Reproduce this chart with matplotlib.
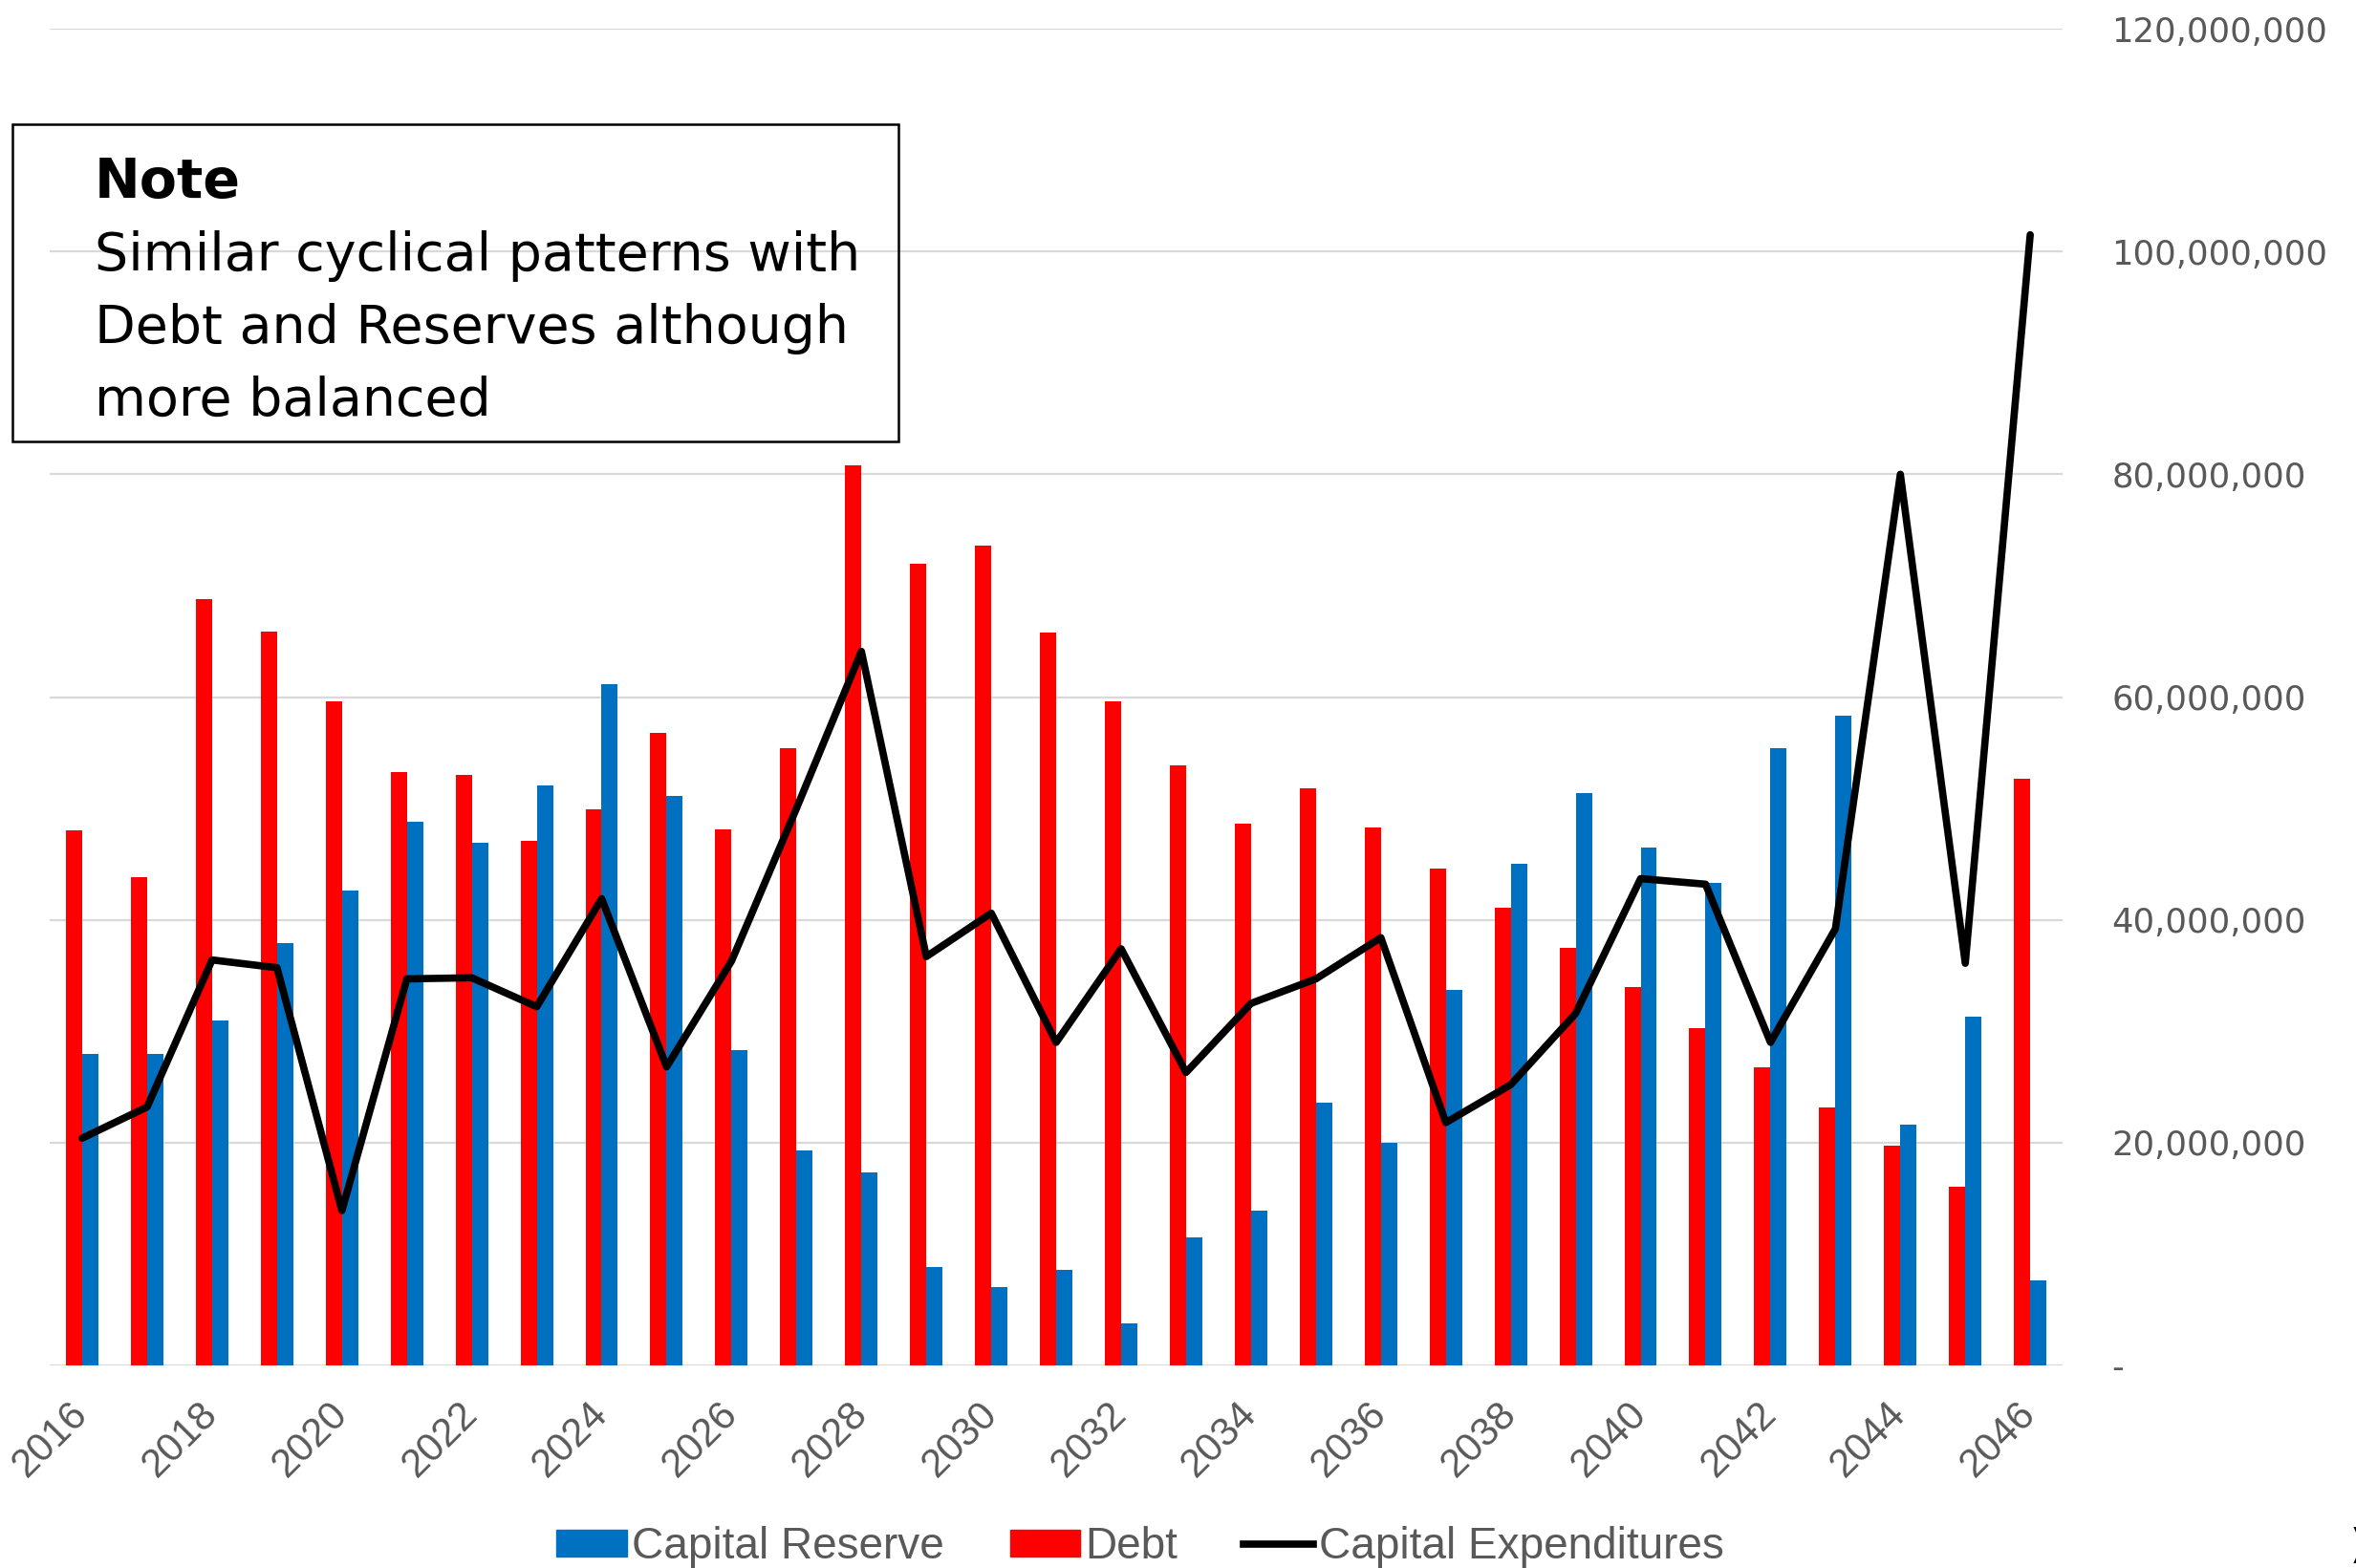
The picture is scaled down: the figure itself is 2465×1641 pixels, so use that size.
import numpy as np
import matplotlib
matplotlib.use("Agg")
import matplotlib.pyplot as plt
from matplotlib.patches import Rectangle
from matplotlib.lines import Line2D

# values
years = list(range(2016, 2047))
debt = [48.0, 43.8, 68.8, 65.9, 59.6, 53.3, 53.0, 47.1, 49.9, 56.8,
        48.1, 55.4, 80.8, 72.0, 73.6, 65.8, 59.6, 53.9, 48.6, 51.8,
        48.3, 44.6, 41.1, 37.5, 34.0, 30.3, 26.8, 23.2, 19.7, 16.0, 52.7]
reserve = [28.0, 28.0, 31.0, 37.9, 42.6, 48.8, 46.9, 52.1, 61.2, 51.1,
           28.3, 19.3, 17.3, 8.8, 7.0, 8.6, 3.8, 11.5, 13.9, 23.6,
           20.0, 33.7, 45.0, 51.4, 46.5, 43.3, 55.4, 58.3, 21.6, 31.3, 7.6]
capex = [20.4, 23.2, 36.4, 35.7, 13.9, 34.7, 34.8, 32.2, 41.9, 26.8,
         36.3, 50.0, 64.1, 36.7, 40.6, 29.0, 37.4, 26.3, 32.5, 34.7,
         38.4, 21.8, 25.2, 31.6, 43.7, 43.2, 29.0, 39.2, 80.0, 36.1, 101.5]
yticks = [0, 20e6, 40e6, 60e6, 80e6, 100e6, 120e6]

debt = np.array(debt) * 1e6
reserve = np.array(reserve) * 1e6
capex = np.array(capex) * 1e6

RED = '#FF0000'
BLUE = '#0070C0'
GREY = '#595959'

plt.rcParams['font.family'] = 'DejaVu Sans'

fig = plt.figure(figsize=(24.65, 16.41), dpi=100)
ax = fig.add_axes([0.0211, 0.1292, 0.8544, 0.8525])

x = np.arange(len(years))
w = 0.25
ax.bar(x - w / 2, debt, w, color=RED, zorder=2)
ax.bar(x + w / 2, reserve, w, color=BLUE, zorder=2)
ax.plot(x, capex, color='black', lw=5.5, solid_joinstyle='round',
        solid_capstyle='round', zorder=3)

ax.set_xlim(-0.5, len(years) - 0.5)
ax.set_ylim(0, 120e6)
for s in ax.spines.values():
    s.set_visible(False)

ax.set_yticks(yticks)
ax.set_yticklabels(['-' if v == 0 else f'{int(v):,}' for v in yticks])
ax.yaxis.tick_right()
ax.tick_params(axis='y', length=0, pad=37, labelsize=25.5, labelcolor=GREY)
ax.grid(axis='y', color='#d9d9d9', lw=1.6, zorder=0)
ax.set_axisbelow(True)

ax.set_xticks(x[::2])
ax.set_xticklabels([str(y) for y in years[::2]], rotation=45, ha='right',
                   va='center', rotation_mode='anchor',
                   family='Liberation Sans')
ax.tick_params(axis='x', length=0, pad=32, labelsize=30, labelcolor=GREY)

# note box
fig.patches.append(Rectangle((12.6 / 2465, 1 - 462 / 1641), (940 - 12.6) / 2465,
                             (462 - 130) / 1641, transform=fig.transFigure,
                             fill=False, edgecolor='black', lw=1.8))
tx = 99 / 2465
fig.text(tx, 1 - 207 / 1641, 'Note', fontsize=41, fontweight='bold', va='baseline')
lines = ['Similar cyclical patterns with', 'Debt and Reserves although', 'more balanced']
for i, t in enumerate(lines):
    fig.text(tx, 1 - (283 + 76 * i) / 1641, t, fontsize=40, va='baseline')

handles = [Rectangle((0, 0), 1, 1, color=BLUE), Rectangle((0, 0), 1, 1, color=RED),
           Line2D([], [], color='black', lw=5.5)]
leg = fig.legend(handles, ['Capital Reserve', 'Debt', 'Capital Expenditures'],
                 loc='center', bbox_to_anchor=(0.484, 0.0134), ncol=3, frameon=False,
                 prop={'family': 'Liberation Sans', 'size': 33},
                 handlelength=1.6, handleheight=0.55, handletextpad=0.12,
                 columnspacing=1.5)
for t in leg.get_texts():
    t.set_color(GREY)

fig.text(0.9975, 0.0134, ')', fontsize=30, fontweight='bold', va='center', ha='left')

fig.savefig('out.png', dpi=100)
